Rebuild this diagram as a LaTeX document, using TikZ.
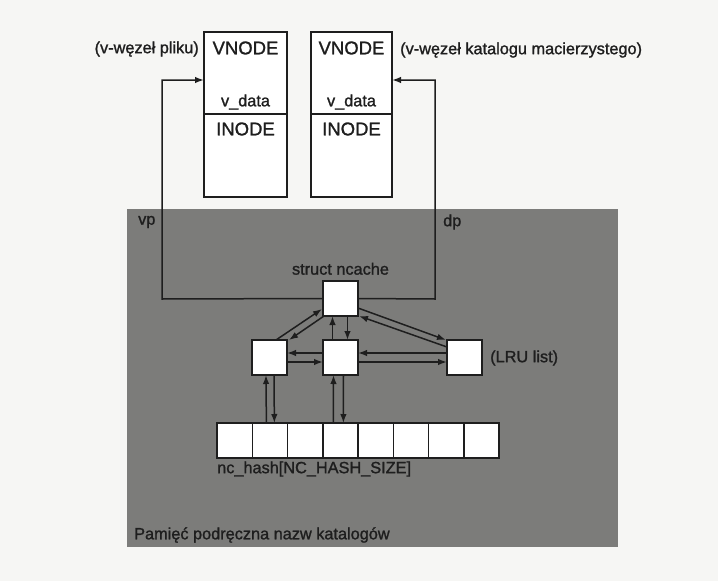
\documentclass[tikz,border=0pt]{standalone}
\usepackage{fontspec}
\setmainfont{Liberation Sans}[FakeBold=1.3]
\usetikzlibrary{arrows.meta,calc}
\definecolor{pagebg}{HTML}{F6F6F4}
\definecolor{cachebg}{HTML}{7C7C7A}
\definecolor{ink}{HTML}{1E1E1E}
\tikzset{
  lbl/.style={inner sep=0pt, text=ink, font=\fontsize{16.3}{19}\selectfont},
  big/.style={inner sep=0pt, text=ink, font=\fontsize{18.5}{21}\selectfont},
  wbox/.style={draw=ink, fill=white, line width=1.5pt, inner sep=0pt, outer sep=0pt, anchor=north west},
  cell/.style={wbox, minimum width=35.25pt, minimum height=35pt},
  sq/.style={wbox, minimum width=35pt, minimum height=35pt},
  vbox/.style={wbox, minimum height=165pt},
  wire/.style={draw=ink, line width=1.5pt},
  arr/.style={wire, -{Latex[length=9pt,width=6.5pt]}},
}
\begin{document}
\begin{tikzpicture}[x=1pt,y=-1pt]
\useasboundingbox (0,0) rectangle (718,581);
\fill[pagebg] (0,0) rectangle (718,581);
% grey cache region
\fill[cachebg] (127,209) rectangle (618,547);

% vnodes
\node[vbox, minimum width=83pt] (v1) at (204,32) {};
\node[vbox, minimum width=81pt] (v2) at (311,32) {};
\draw[wire] (v1.west |- 0,114) -- (v1.east |- 0,114);
\draw[wire] (v2.west |- 0,114) -- (v2.east |- 0,114);
\node[big] (v1t) at ($(v1.north)+(0,16)$) {VNODE};
\node[lbl] (v1d) at ($(v1.north)+(0,70)$) {v\_data};
\node[big] (v1i) at ($(v1.north)+(0,97)$) {INODE};
\node[big] (v2t) at ($(v2.north)+(0,16)$) {VNODE};
\node[lbl] (v2d) at ($(v2.north)+(0,70)$) {v\_data};
\node[big] (v2i) at ($(v2.north)+(0,97)$) {INODE};
\node[lbl, anchor=east] (lab1) at (199,49) {(v-węzeł pliku)};
\node[lbl, anchor=west] (lab2) at (400,50) {(v-węzeł katalogu macierzystego)};

% cache entries
\node[sq] (nc) at (323,281) {};
\node[sq] (lb) at (252,340) {};
\node[sq] (cb) at (323,340) {};
\node[sq] (lru) at (447,340) {};
\node[lbl, anchor=south] (nclab) at ($(nc.north)+(0,-6)$) {struct ncache};
\node[lbl, anchor=west] (lrulab) at (490,358) {(LRU list)};
\node[lbl, anchor=west] (vp) at (138,222) {vp};
\node[lbl, anchor=west] (dp) at (443,222) {dp};

% hash table
\node[cell] (h1) at (217,423) {};
\foreach \i [count=\j from 2] in {1,...,7} {
  \node[cell, anchor=north west] (h\j) at (h\i.north east) {};
}
\node[lbl, anchor=west] (hashlab) at (217,469) {nc\_hash[NC\_HASH\_SIZE]};
\node[lbl, anchor=west] (cachelab) at (134,535) {Pamięć podręczna nazw katalogów};

% vp / dp pointers
\coordinate (vpA) at (162,299);
\coordinate (vpB) at (162,80);
\coordinate (dpA) at (435,299);
\coordinate (dpB) at (435,80);
\draw[arr] (nc.west) -- (vpA) -- (vpB) -- (vpB -| v1.west);
\draw[arr] (nc.east) -- (dpA) -- (dpB) -- (dpB -| v2.east);

% nc <-> left box
\draw[arr] ($(lb.north east)+(-11,0)$) -- ($(nc.south west)+(-1,-7)$);
\draw[arr] ($(nc.south west)+(1,0)$) -- ($(lb.north east)+(2,0)$);
% nc <-> centre box
\draw[arr] ($(cb.north)+(-8,0)$) -- ($(nc.south)+(-8,0)$);
\draw[arr] ($(nc.south)+(7,0)$) -- ($(cb.north)+(7,0)$);
% nc <-> LRU
\draw[arr] ($(nc.north east)+(0,27)$) -- ($(lru.north west)+(-1,0)$);
\draw[arr] ($(lru.north west)+(0,7)$) -- ($(nc.south east)+(1,0)$);
% left <-> centre
\draw[arr] ($(cb.west)+(0,-4.5)$) -- ($(lb.east)+(0,-4.5)$);
\draw[arr] ($(lb.east)+(0,4.5)$) -- ($(cb.west)+(0,4.5)$);
% centre <-> LRU
\draw[arr] ($(lru.west)+(0,-4.5)$) -- ($(cb.east)+(0,-4.5)$);
\draw[arr] ($(cb.east)+(0,4.5)$) -- ($(lru.west)+(0,4.5)$);
% boxes <-> hash
\draw[arr] ($(h2.north)+(-3.5,0)$) -- ($(lb.south)+(-3.5,0)$);
\draw[arr] ($(lb.south)+(4.5,0)$) -- ($(h2.north)+(4.5,0)$);
\draw[arr] ($(h4.north)+(-7,0)$) -- ($(cb.south)+(-7,0)$);
\draw[arr] ($(cb.south)+(3,0)$) -- ($(h4.north)+(3,0)$);
\end{tikzpicture}
\end{document}
